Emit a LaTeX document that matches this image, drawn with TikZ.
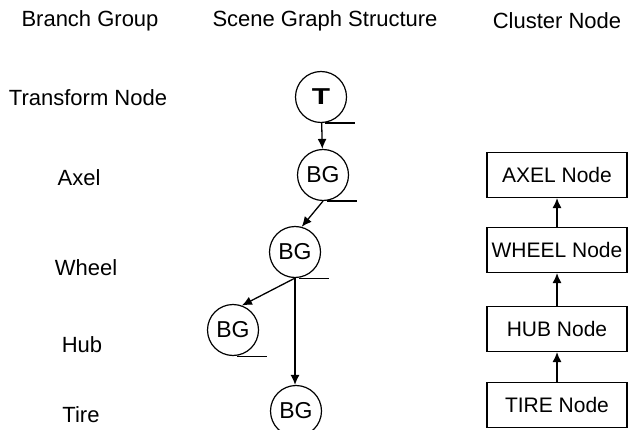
\documentclass[tikz,border=0pt]{standalone}
\usepackage{fontspec}
\setmainfont{Liberation Sans}
\usepackage{tikz}
\usetikzlibrary{shapes.geometric, arrows, arrows.meta, positioning}
\tikzstyle{arrow} = [->, >={Latex[length=10pt,width=9pt]}, line width=1.3pt]
\tikzstyle{sgnode} = [circle, draw=black, line width=1.2pt, minimum size=51pt, inner sep=0pt, font=\fontsize{23}{26}\selectfont]
\tikzstyle{tail} = [line width=1.2pt]
\tikzstyle{clusterbox} = [rectangle, draw=black, line width=1.1pt, minimum width=140pt, minimum height=45pt, text centered, font=\fontsize{21}{24}\selectfont]
\tikzstyle{label} = [font=\fontsize{22}{26}\selectfont]

\begin{document}
\begin{tikzpicture}[x=1pt, y=-1pt]
  \useasboundingbox (0,0) rectangle (628,430);

  % Column headers
  \node (hbranch) [label] at (90,21) {Branch Group};
  \node (hscene) [label] at (325,21) {Scene Graph Structure};
  \node (hcluster) [label] at (557,21) {Cluster Node};

  % Branch group names
  \node (ltrans) [label] at (88,98) {Transform Node};
  \node (laxel) [label] at (79,178) {Axel};
  \node (lwheel) [label] at (86,268) {Wheel};
  \node (lhub) [label] at (82,345) {Hub};
  \node (ltire) [label] at (81,415) {Tire};

  % Scene graph
  \node (t) [sgnode] at (321,97) {\bfseries\scalebox{1.3}[1]{T}};
  \node (bgaxel) [sgnode] at (323,175) {BG};
  \node (bgwheel) [sgnode] at (295,252) {BG};
  \node (bghub) [sgnode] at (233,330) {BG};
  \node (bgtire) [sgnode] at (296,411) {BG};
  \foreach \n in {t, bgaxel, bgwheel, bghub}
    \draw[tail] (\n.south) ++(4,0) -- ++(30,0);

  \draw[arrow] (t) -- (bgaxel);
  \draw[arrow] (bgaxel.south) -- (bgwheel.75);
  \draw[arrow] (bgwheel.south) -- (bghub.70);
  \draw[arrow] (bgwheel.south) -- (bgwheel.south |- bgtire.north);

  % Cluster nodes
  \node (axelbox) [clusterbox] at (557,175) {AXEL Node};
  \node (wheelbox) [clusterbox] at (557,250) {WHEEL Node};
  \node (hubbox) [clusterbox] at (557,329) {HUB Node};
  \node (tirebox) [clusterbox] at (557,405) {TIRE Node};

  \draw[arrow] (tirebox) -- (hubbox);
  \draw[arrow] (hubbox) -- (wheelbox);
  \draw[arrow] (wheelbox) -- (axelbox);

\end{tikzpicture}
\end{document}
